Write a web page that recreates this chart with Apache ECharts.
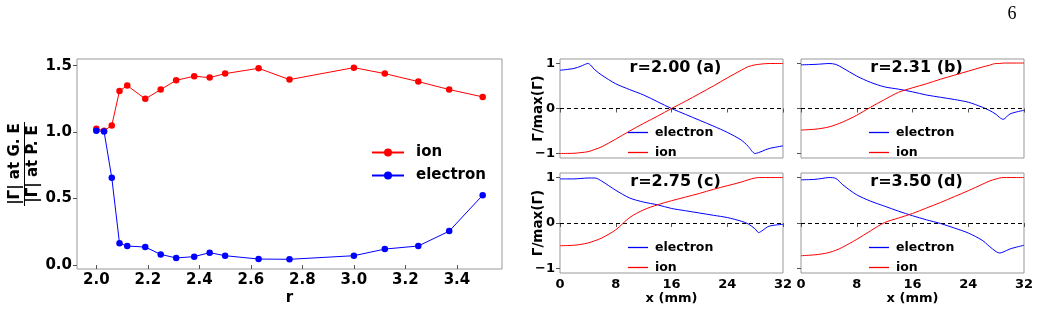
<!DOCTYPE html>
<html>
<head>
<meta charset="utf-8">
<title>flux ratio</title>
<script src="https://cdn.jsdelivr.net/npm/echarts@6/dist/echarts.min.js"></script>
<style>
  html, body { margin: 0; padding: 0; background: #fff; }
  #main { width: 1039px; height: 311px; }
</style>
</head>
<body>
<div id="main"></div>
<script>
// 左图: |Γ| at G.E / |Γ| at P.E 随 r 变化
var rVals = [2.0, 2.03, 2.06, 2.09, 2.12, 2.19, 2.25, 2.31, 2.38, 2.44, 2.5, 2.63, 2.75, 3.0, 3.12, 3.25, 3.37, 3.5];
var ionRatio = [1.025, 1.01, 1.05, 1.31, 1.35, 1.25, 1.32, 1.39, 1.42, 1.41, 1.44, 1.48, 1.395, 1.485, 1.44, 1.38, 1.32, 1.265];
var electronRatio = [1.01, 1.005, 0.657, 0.163, 0.143, 0.135, 0.08, 0.053, 0.063, 0.093, 0.07, 0.045, 0.043, 0.07, 0.12, 0.143, 0.255, 0.525];
var rTicks = [2.0, 2.2, 2.4, 2.6, 2.8, 3.0, 3.2, 3.4];
var ratioTicks = [0, 0.5, 1.0, 1.5];

// 右图: Γ/max(Γ) 沿 x (mm)
var xGrid = [0, 2, 3, 4, 5, 6, 8, 10, 12, 14, 16, 18, 20, 22, 24, 26, 27, 28, 28.5, 29, 30, 32];
var elecA = [0.85, 0.89, 0.94, 1.0, 0.86, 0.74, 0.55, 0.42, 0.30, 0.15, 0.0, -0.13, -0.26, -0.39, -0.53, -0.70, -0.84, -1.0, -0.98, -0.95, -0.89, -0.83];
var ionA  = [-1.0, -0.995, -0.98, -0.96, -0.91, -0.85, -0.68, -0.5, -0.33, -0.17, 0.0, 0.16, 0.33, 0.5, 0.68, 0.85, 0.93, 0.97, 0.98, 0.99, 1.0, 1.0];
var elecB = [0.97, 0.98, 0.99, 1.0, 0.98, 0.9, 0.72, 0.58, 0.48, 0.43, 0.37, 0.30, 0.25, 0.2, 0.14, 0.03, -0.04, -0.13, -0.2, -0.24, -0.12, -0.04];
var ionB  = [-0.48, -0.46, -0.44, -0.41, -0.36, -0.3, -0.15, 0.03, 0.2, 0.36, 0.46, 0.55, 0.65, 0.74, 0.83, 0.92, 0.96, 1.0, 1.0, 1.01, 1.01, 1.01];
var elecC = [0.97, 0.97, 0.98, 0.99, 0.99, 0.92, 0.72, 0.55, 0.46, 0.40, 0.32, 0.27, 0.22, 0.17, 0.12, 0.04, -0.02, -0.13, -0.21, -0.17, -0.07, -0.03];
var ionC  = [-0.5, -0.49, -0.47, -0.44, -0.39, -0.33, -0.15, 0.12, 0.29, 0.40, 0.49, 0.57, 0.65, 0.74, 0.82, 0.9, 0.95, 0.99, 1.0, 1.0, 1.0, 1.0];
var elecD = [0.95, 0.96, 0.98, 1.0, 0.98, 0.84, 0.62, 0.48, 0.37, 0.26, 0.16, 0.07, -0.01, -0.11, -0.22, -0.38, -0.51, -0.63, -0.66, -0.64, -0.57, -0.49];
var ionD  = [-0.72, -0.70, -0.68, -0.65, -0.6, -0.53, -0.36, -0.17, 0.01, 0.11, 0.21, 0.33, 0.45, 0.58, 0.71, 0.85, 0.92, 0.97, 0.99, 1.0, 1.0, 1.0];
var panelTitles = ['r=2.00 (a)', 'r=2.31 (b)', 'r=2.75 (c)', 'r=3.50 (d)'];
var panelKeys = ['a', 'b', 'c', 'd'];
var gammaTicks = [-1, 0, 1];

var FONT = 'DejaVu Sans';
var BORDER = '#999';

function pairs(xs, ys) {
    return xs.map(function (x, i) { return [x, ys[i]]; });
}
function minusFmt(v) {
    return v < 0 ? '\u2212' + Math.abs(v) : String(v);
}

var panelBoxes = [
    {left: 560, top: 59, width: 223, height: 99},
    {left: 801, top: 59, width: 223, height: 99},
    {left: 560, top: 173, width: 223, height: 100},
    {left: 801, top: 173, width: 223, height: 100}
];
var panelData = [[elecA, ionA], [elecB, ionB], [elecC, ionC], [elecD, ionD]];

var grids = [{left: 77, top: 59, width: 425, height: 210, show: true, borderColor: BORDER, borderWidth: 1}];
var xAxes = [{
    type: 'value', gridIndex: 0, min: 1.925, max: 3.575,
    axisLine: {show: false},
    splitLine: {show: false},
    axisTick: {customValues: rTicks, length: 4, lineStyle: {color: '#555'}},
    axisLabel: {customValues: rTicks, margin: 4, color: '#000', fontSize: 15, fontWeight: 'bold',
        formatter: function (v) { return v.toFixed(1); }},
    name: 'r', nameLocation: 'middle', nameGap: 22, nameMoveOverlap: false,
    nameTextStyle: {color: '#000', fontSize: 15, fontWeight: 'bold'}
}];
var yAxes = [{
    type: 'value', gridIndex: 0, min: -0.03, max: 1.55,
    axisLine: {show: false},
    splitLine: {show: false},
    axisTick: {customValues: ratioTicks, length: 4, lineStyle: {color: '#555'}},
    axisLabel: {customValues: ratioTicks, margin: 5, color: '#000', fontSize: 15, fontWeight: 'bold',
        formatter: function (v) { return v.toFixed(1); }}
}];
var series = [
    {name: 'ion', type: 'line', xAxisIndex: 0, yAxisIndex: 0, data: pairs(rVals, ionRatio),
        symbol: 'circle', symbolSize: 6.5, itemStyle: {color: '#ff0000'}, lineStyle: {color: '#ff0000', width: 1}},
    {name: 'electron', type: 'line', xAxisIndex: 0, yAxisIndex: 0, data: pairs(rVals, electronRatio),
        symbol: 'circle', symbolSize: 6.5, itemStyle: {color: '#0000ff'}, lineStyle: {color: '#0000ff', width: 1}}
];
var legends = [{
    data: ['ion', 'electron'], orient: 'vertical', left: 371, top: 145, padding: 0,
    itemWidth: 32, itemHeight: 10, itemGap: 8, selectedMode: false,
    textStyle: {color: '#000', fontSize: 15, fontWeight: 'bold', padding: [0, 0, 0, 7]}
}];
var graphics = [];

panelBoxes.forEach(function (box, i) {
    var k = panelKeys[i];
    var bottomRow = i >= 2;
    var leftCol = i % 2 === 0;
    grids.push({left: box.left, top: box.top, width: box.width, height: box.height,
        show: true, borderColor: BORDER, borderWidth: 1});
    xAxes.push({
        type: 'value', gridIndex: i + 1, min: 0, max: 32, interval: 8,
        axisLine: {show: false},
        splitLine: {show: false},
        axisTick: {length: 4, lineStyle: {color: '#555'}},
        axisLabel: {show: bottomRow, margin: 5, color: '#000', fontSize: 13, fontWeight: 'bold'},
        name: bottomRow ? 'x (mm)' : '', nameLocation: 'middle', nameGap: 19, nameMoveOverlap: false,
        nameTextStyle: {color: '#000', fontSize: 13, fontWeight: 'bold'}
    });
    yAxes.push({
        type: 'value', gridIndex: i + 1, min: -1.1, max: 1.1,
        axisLine: {show: false},
        splitLine: {show: false},
        axisTick: {customValues: gammaTicks, length: 4, lineStyle: {color: '#555'}},
        axisLabel: {show: leftCol, customValues: gammaTicks, margin: 5, color: '#000', fontSize: 13,
            fontWeight: 'bold', formatter: minusFmt},
        name: leftCol ? 'Γ/max(Γ)' : '', nameLocation: 'middle', nameGap: 15, nameRotate: 90,
        nameMoveOverlap: false,
        nameTextStyle: {color: '#000', fontSize: 13.5, fontWeight: 'bold'}
    });
    series.push({
        name: 'electron_' + k, type: 'line', xAxisIndex: i + 1, yAxisIndex: i + 1,
        data: pairs(xGrid, panelData[i][0]), symbol: 'none', smooth: 0.3,
        lineStyle: {color: '#0000ff', width: 1}, itemStyle: {color: '#0000ff'},
        markLine: {
            silent: true, symbol: 'none', label: {show: false},
            lineStyle: {color: '#000', type: [4, 3], width: 1.2},
            data: [{yAxis: 0}]
        }
    });
    series.push({
        name: 'ion_' + k, type: 'line', xAxisIndex: i + 1, yAxisIndex: i + 1,
        data: pairs(xGrid, panelData[i][1]), symbol: 'none', smooth: 0.3,
        lineStyle: {color: '#ff0000', width: 1}, itemStyle: {color: '#ff0000'}
    });
    legends.push({
        data: ['electron_' + k, 'ion_' + k], orient: 'vertical', padding: 0,
        left: box.left + 68, top: box.top + (bottomRow ? 68 : 67),
        icon: 'rect', itemWidth: 20, itemHeight: 1.3, itemGap: 7, selectedMode: false,
        formatter: function (name) { return name.split('_')[0]; },
        textStyle: {color: '#000', fontSize: 12.5, fontWeight: 'bold', padding: [0, 0, 0, 2]}
    });
    graphics.push({
        type: 'text', x: box.left + box.width / 2 + 4, y: box.top + 9,
        style: {text: panelTitles[i], fontSize: 16, fontWeight: 'bold', fontFamily: FONT,
            fill: '#000', align: 'center', verticalAlign: 'middle'}
    });
});

// 左图纵轴: 分式标签
graphics.push(
    {type: 'text', x: 15, y: 164, rotation: Math.PI / 2,
        style: {text: '|Γ| at G. E', fontSize: 15, fontWeight: 'bold', fontFamily: FONT,
            fill: '#000', align: 'center', verticalAlign: 'middle'}},
    {type: 'text', x: 33, y: 164, rotation: Math.PI / 2,
        style: {text: '|Γ| at P. E', fontSize: 15, fontWeight: 'bold', fontFamily: FONT,
            fill: '#000', align: 'center', verticalAlign: 'middle'}},
    {type: 'line', shape: {x1: 24.5, y1: 122, x2: 24.5, y2: 206},
        style: {stroke: '#000', lineWidth: 1}},
    {type: 'text', x: 1012, y: 14,
        style: {text: '6', fontSize: 18, fontFamily: 'Liberation Serif',
            fill: '#000', align: 'center', verticalAlign: 'middle'}}
);

var chart = echarts.init(document.getElementById('main'));
chart.setOption({
    animation: false,
    backgroundColor: '#fff',
    textStyle: {fontFamily: FONT},
    grid: grids,
    xAxis: xAxes,
    yAxis: yAxes,
    legend: legends,
    series: series,
    graphic: graphics
});
</script>
</body>
</html>
